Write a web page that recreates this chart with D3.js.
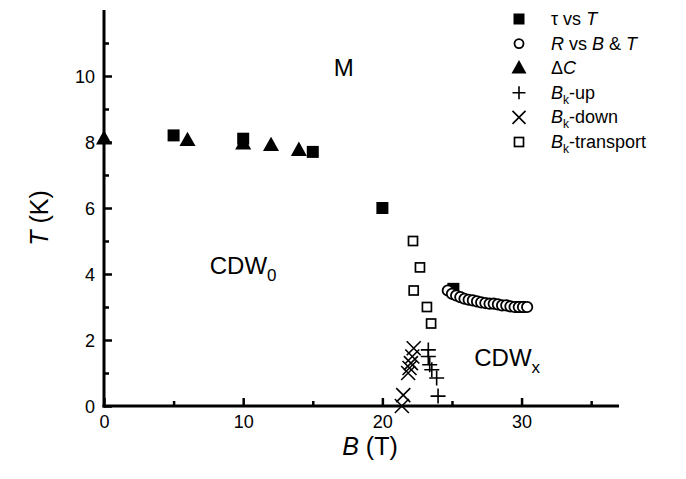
<!DOCTYPE html>
<html>
<head>
<meta charset="utf-8">
<script src="https://cdn.jsdelivr.net/npm/d3@7"></script>
<style>
  html, body { margin: 0; padding: 0; background: #fff; }
  svg { display: block; font-family: "Liberation Sans", Arial, Helvetica, sans-serif; }
</style>
</head>
<body>
<svg id="chart" width="686" height="479"></svg>
<script>
// Phase-diagram data: temperature T (K) against magnetic field B (T)
const tauVsT = [[5, 8.2], [10, 8.1], [15, 7.7], [20, 6.0], [25.1, 3.55], [29.9, 3.0]];
const rVsBT = [
  [24.7, 3.5], [25.0, 3.4], [25.3, 3.35], [25.6, 3.3], [25.9, 3.25], [26.2, 3.22],
  [26.5, 3.2], [26.8, 3.17], [27.1, 3.14], [27.4, 3.12], [27.7, 3.1], [28.0, 3.1],
  [28.3, 3.08], [28.6, 3.05], [28.9, 3.05], [29.2, 3.02], [29.5, 3.0], [29.8, 3.0],
  [30.1, 3.0], [30.4, 3.0]
];
const deltaC = [[0, 8.1], [6, 8.05], [10, 7.95], [12, 7.9], [14, 7.75]];
const bkUp = [[23.3, 1.7], [23.3, 1.5], [23.4, 1.25], [23.55, 1.1], [23.9, 0.85], [24.0, 0.3]];
const bkDown = [[22.25, 1.75], [22.15, 1.5], [22.05, 1.3], [21.95, 1.15], [21.85, 1.0], [21.5, 0.33], [21.4, 0.0]];
const bkTransport = [[22.2, 5.0], [22.7, 4.2], [22.25, 3.5], [23.2, 3.0], [23.5, 2.5]];

const xMajor = [0, 10, 20, 30];
const xMinor = [5, 15, 25, 35];
const yMajor = [0, 2, 4, 6, 8, 10];
const yMinor = [1, 3, 5, 7, 9, 11];

const svg = d3.select("#chart");
const x = d3.scaleLinear().domain([0, 37]).range([104, 619]);
const y = d3.scaleLinear().domain([0, 12]).range([406, 10]);

// Axes: ticks point inward, minor ticks shorter and unlabelled
const gx = svg.append("g").attr("transform", `translate(0,${y(0)})`);
gx.call(d3.axisBottom(x).tickValues(xMajor).tickSize(-8).tickPadding(9).tickFormat(d3.format("d")));
const gxm = svg.append("g").attr("transform", `translate(0,${y(0)})`);
gxm.call(d3.axisBottom(x).tickValues(xMinor).tickSize(-5).tickFormat(""));
const gy = svg.append("g").attr("transform", `translate(${x(0)},0)`);
gy.call(d3.axisLeft(y).tickValues(yMajor).tickSize(-8).tickPadding(9).tickFormat(d3.format("d")));
const gym = svg.append("g").attr("transform", `translate(${x(0)},0)`);
gym.call(d3.axisLeft(y).tickValues(yMinor).tickSize(-5).tickFormat(""));

[gx, gxm, gy, gym].forEach(g => {
  g.selectAll(".domain").attr("stroke", "#000").attr("stroke-width", 3).attr("d", null);
  g.selectAll(".tick line").attr("stroke", "#000").attr("stroke-width", 2.5);
  g.selectAll(".tick text").attr("font-size", 18).attr("fill", "#000")
    .attr("font-family", "'Liberation Sans', Arial, sans-serif");
});
// axis lines drawn explicitly so they have no outer tick caps
gx.select(".domain").attr("d", `M${x(0) - 1.5},0H${x(37)}`);
gy.select(".domain").attr("d", `M0,${y(0) + 1.5}V${y(12)}`);
gxm.select(".domain").remove();
gym.select(".domain").remove();
gy.selectAll(".tick text").attr("dy", "0.36em");

// Marker shapes
function filledSquare(g, s) {
  g.append("rect").attr("x", -s / 2).attr("y", -s / 2).attr("width", s).attr("height", s).attr("fill", "#000");
}
function openSquare(g, s) {
  g.append("rect").attr("x", -s / 2).attr("y", -s / 2).attr("width", s).attr("height", s)
    .attr("fill", "#fff").attr("stroke", "#000").attr("stroke-width", 1.7);
}
function openCircle(g, r) {
  g.append("circle").attr("r", r).attr("fill", "#fff").attr("stroke", "#000").attr("stroke-width", 1.8);
}
function triangle(g, s) {
  const h = s * 0.9;
  g.append("path").attr("d", `M0,${-h * 0.6}L${s / 2},${h * 0.4}L${-s / 2},${h * 0.4}Z`).attr("fill", "#000");
}
function plus(g, s) {
  g.append("path").attr("d", `M${-s / 2},0H${s / 2}M0,${-s / 2}V${s / 2}`)
    .attr("stroke", "#000").attr("stroke-width", 1.6).attr("fill", "none");
}
function cross(g, s) {
  const h = s / 2;
  g.append("path").attr("d", `M${-h},${-h}L${h},${h}M${h},${-h}L${-h},${h}`)
    .attr("stroke", "#000").attr("stroke-width", 1.6).attr("fill", "none");
}

function series(data, draw, size) {
  const g = svg.append("g");
  g.selectAll("g").data(data).join("g")
    .attr("transform", d => `translate(${x(d[0])},${y(d[1])})`)
    .each(function () { draw(d3.select(this), size); });
}

series(bkTransport, openSquare, 9);
series(bkDown, cross, 14);
series(bkUp, plus, 15);
series(tauVsT, filledSquare, 12);
series(rVsBT, openCircle, 5.2);
series(deltaC, triangle, 16);

// Region labels
const regionFont = 24;
svg.append("text").attr("x", x(16.5)).attr("y", y(10.0)).attr("font-size", regionFont).text("M");
const cdw0 = svg.append("text").attr("x", x(7.6)).attr("y", y(4.0)).attr("font-size", regionFont);
cdw0.append("tspan").text("CDW");
cdw0.append("tspan").attr("font-size", 17).attr("dy", 7).text("0");
const cdwx = svg.append("text").attr("x", x(26.6)).attr("y", y(1.2)).attr("font-size", regionFont);
cdwx.append("tspan").text("CDW");
cdwx.append("tspan").attr("font-size", 17).attr("dy", 7).text("x");

// Axis titles
const xt = svg.append("text").attr("x", 370).attr("y", 455).attr("text-anchor", "middle").attr("font-size", 25);
xt.append("tspan").attr("font-style", "italic").text("B");
xt.append("tspan").text(" (T)");
const yt = svg.append("text").attr("transform", "translate(48,218) rotate(-90)")
  .attr("text-anchor", "middle").attr("font-size", 25);
yt.append("tspan").attr("font-style", "italic").text("T");
yt.append("tspan").text(" (K)");

// Legend
const legendItems = [
  { draw: filledSquare, size: 11, parts: [["τ vs ", false], ["T", true]] },
  { draw: openCircle, size: 4.5, parts: [["R", true], [" vs ", false], ["B", true], [" & ", false], ["T", true]] },
  { draw: triangle, size: 15, parts: [["Δ", false], ["C", true]] },
  { draw: plus, size: 13, parts: [["B", true], ["k", false, true], ["-up", false]] },
  { draw: cross, size: 13, parts: [["B", true], ["k", false, true], ["-down", false]] },
  { draw: openSquare, size: 9, parts: [["B", true], ["k", false, true], ["-transport", false]] }
];
const legend = svg.append("g");
legendItems.forEach((item, i) => {
  const cy = 19 + i * 24.6;
  const sym = legend.append("g").attr("transform", `translate(519,${cy})`);
  item.draw(sym, item.size);
  const t = legend.append("text").attr("x", 551).attr("y", cy + 6).attr("font-size", 18);
  let sub = false;
  item.parts.forEach(([txt, ital, isSub]) => {
    const ts = t.append("tspan").text(txt);
    if (ital) ts.attr("font-style", "italic");
    if (isSub) { ts.attr("font-size", 12).attr("dy", 5); sub = true; }
    else if (sub) { ts.attr("dy", -5); sub = false; }
  });
});
</script>
</body>
</html>
